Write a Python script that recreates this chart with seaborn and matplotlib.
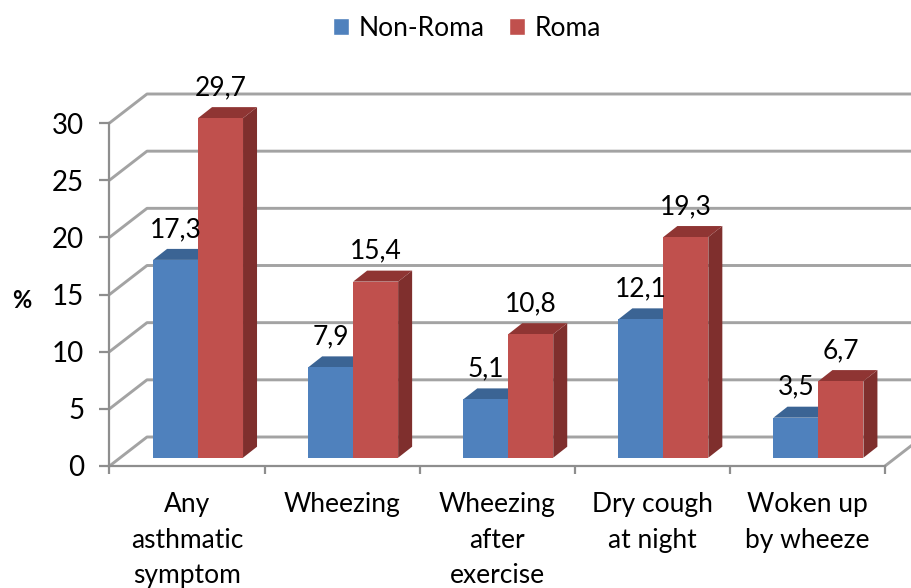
import matplotlib
matplotlib.use("Agg")
import matplotlib.pyplot as plt
import seaborn as sns
import pandas as pd
from matplotlib.patches import Polygon
from matplotlib.transforms import IdentityTransform

categories = ["Any\nasthmatic\nsymptom", "Wheezing", "Wheezing\nafter\nexercise", "Dry cough\nat night", "Woken up\nby wheeze"]
non_roma = [17.3, 7.9, 5.1, 12.1, 3.5]
roma = [29.7, 15.4, 10.8, 19.3, 6.7]
series = ["Non-Roma", "Roma"]
y_ticks = [0, 5, 10, 15, 20, 25, 30]

W, H = 912, 588
BLUE, RED = "#4F81BD", "#C0504D"
BLUE_TOP, RED_TOP = "#3B6494", "#8F3533"
BLUE_SIDE, RED_SIDE = "#355A86", "#7F2F2D"
GRID = "#A3A3A3"
AXC = "#8E8E8E"

sns.set_theme(style="white")
plt.rcParams["font.family"] = ["Lato", "DejaVu Sans"]

df = pd.DataFrame({
    "category": categories * 2,
    "series": [series[0]] * 5 + [series[1]] * 5,
    "value": non_roma + roma,
})

fig = plt.figure(figsize=(W / 100, H / 100), dpi=100, facecolor="white")

def axrect(l, r, b, t):
    return [l / W, 1 - b / H, (r - l) / W, (b - t) / H]

# front frame axes (pixel geometry from reference)
ax = fig.add_axes(axrect(109.5, 885, 466, 123))
ax.set_xlim(-0.5, 4.5)
ax.set_ylim(0, 30)
ax.patch.set_alpha(0)
for s in ["top", "right"]:
    ax.spines[s].set_visible(False)
for s in ["left", "bottom"]:
    ax.spines[s].set_color(AXC)
    ax.spines[s].set_linewidth(1.6)

ax.set_yticks(y_ticks)
ax.tick_params(axis="y", length=7.2, width=1.6, color=AXC, pad=11, labelsize=20, left=True, labelcolor="black")
ax.set_xticks([i - 0.5 for i in range(6)])
ax.set_xticklabels([])
ax.tick_params(axis="x", which="major", length=5.5, width=1.6, color=AXC, bottom=True)
ax.set_xticks(range(5), minor=True)
ax.set_xticklabels(categories, minor=True, fontsize=19, linespacing=1.52, color="black", va="top")
ax.tick_params(axis="x", which="minor", length=0, pad=19, bottom=False)
ax.set_ylabel("")
fig.text(22 / W, 1 - 300 / H, "%", fontsize=17, fontweight="bold", ha="center", va="center", color="black")

# back wall gridlines and the side-wall diagonals
DX, DY = 37.5, 29
for v in y_ticks:
    x0, y0 = ax.transData.transform((-0.5, v))
    ax.plot([x0, x0 + DX, W], [y0, y0 + DY, y0 + DY], color=GRID, lw=2.1,
            transform=IdentityTransform(), clip_on=False, zorder=0.5)
x1, y1 = ax.transData.transform((4.5, 0))
ax.plot([x1, x1 + DX], [y1, y1 + DY], color=GRID, lw=2.1,
        transform=IdentityTransform(), clip_on=False, zorder=0.5)

# bars axes, shifted onto the floor of the 3D box
bx = fig.add_axes(axrect(120.5, 896, 457.7, 114.7))
bx.patch.set_alpha(0)
sns.barplot(data=df, x="category", y="value", hue="series", order=categories,
            hue_order=series, palette=[BLUE, RED], width=0.58, gap=0, dodge=True,
            saturation=1, errorbar=None, ax=bx, legend=True)
bx.set_xlim(-0.5, 4.5)
bx.set_ylim(0, 30)
bx.axis("off")

handles, labels = bx.get_legend_handles_labels()
bx.get_legend().remove()

tops = [BLUE_TOP, RED_TOP]
sides = [BLUE_SIDE, RED_SIDE]
bars = [p for p in bx.patches if p.get_height() > 0]
ox, oy = 14, 11
for i, p in enumerate(bars):
    k = 0 if i < 5 else 1
    p.set_zorder(2 + 2 * k)
    p.set_linewidth(0)
    (xa, ya) = bx.transData.transform((p.get_x(), 0))
    (xb, yb) = bx.transData.transform((p.get_x() + p.get_width(), p.get_height()))
    bx.add_patch(Polygon([(xb, ya), (xb + ox, ya + oy), (xb + ox, yb + oy), (xb, yb)],
                         closed=True, fc=sides[k], ec="none", transform=IdentityTransform(),
                         clip_on=False, zorder=1 + 2 * k))
    bx.add_patch(Polygon([(xa, yb), (xa + ox, yb + oy), (xb + ox, yb + oy), (xb, yb)],
                         closed=True, fc=tops[k], ec="none", transform=IdentityTransform(),
                         clip_on=False, zorder=1 + 2 * k))
    bx.annotate(f"{p.get_height():.1f}".replace(".", ","),
                (p.get_x() + p.get_width() / 2, p.get_height()),
                xytext=(0, 22), textcoords="offset points", ha="center", va="center",
                fontsize=19, color="black", zorder=10, annotation_clip=False)

fig.legend(handles, labels, loc="center", bbox_to_anchor=(467 / W, 1 - 28.5 / H),
           bbox_transform=fig.transFigure, ncol=2, frameon=False, fontsize=19,
           handlelength=0.6, handleheight=0.6, handletextpad=0.35, columnspacing=0.95,
           borderpad=0, labelcolor="black")

fig.savefig("out.png", dpi=100, facecolor="white")
